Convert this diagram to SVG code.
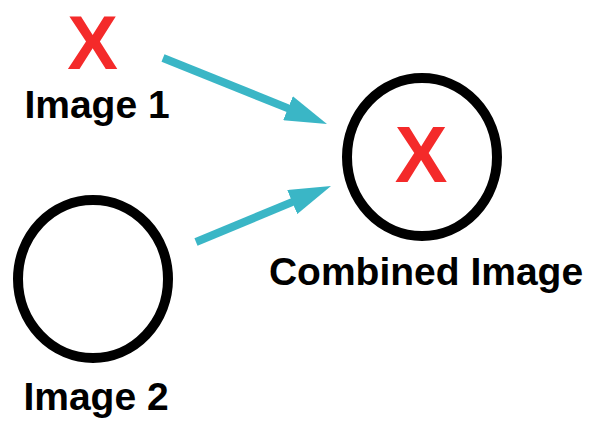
<svg xmlns="http://www.w3.org/2000/svg" width="590" height="421" viewBox="0 0 590 421">
<style>
.lbl{font-family:"Liberation Sans",Arial,sans-serif;font-weight:bold;font-size:39px;fill:#000;text-anchor:middle}
.x{font-family:"Liberation Sans",Arial,sans-serif;font-weight:bold;font-size:79px;fill:#f42a2a;text-anchor:middle}
.ring{fill:none;stroke:#000;stroke-width:10}
.arr{stroke:#3ab6c6;stroke-width:8;fill:none;marker-end:url(#ah)}
</style>
<defs>
<marker id="ah" markerUnits="userSpaceOnUse" viewBox="0 0 42 26" markerWidth="42" markerHeight="26" refX="7" refY="13" orient="auto">
<path d="M0,0 L42,13 L0,26 z" fill="#3ab6c6"/>
</marker>
</defs>
<rect width="590" height="421" fill="#fff"/>
<g id="connectors">
<line class="arr" x1="163" y1="58" x2="294.5" y2="110.9"/>
<line class="arr" x1="196" y1="242" x2="298.7" y2="199.4"/>
</g>
<g id="image1">
<text class="x" x="92.5" y="69" style="font-size:76px">X</text>
<text class="lbl" x="97" y="118">Image 1</text>
</g>
<g id="image2">
<ellipse class="ring" cx="93" cy="279" rx="75" ry="79"/>
<text class="lbl" x="96" y="410">Image 2</text>
</g>
<g id="combined">
<ellipse class="ring" cx="422" cy="157" rx="75" ry="79"/>
<text class="x" x="421" y="182">X</text>
<text class="lbl" x="426" y="285">Combined Image</text>
</g>
</svg>
